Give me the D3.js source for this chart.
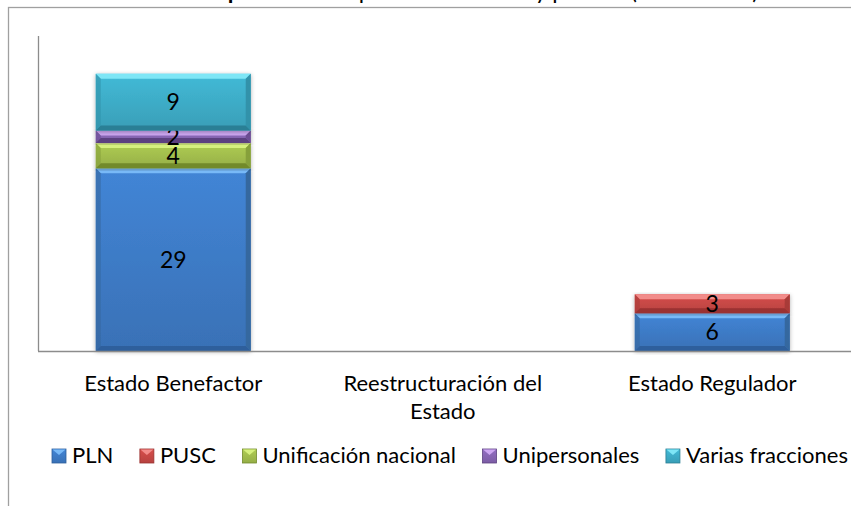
<!DOCTYPE html>
<html>
<head>
<meta charset="utf-8">
<script src="https://cdn.jsdelivr.net/npm/d3@7"></script>
<style>
  html, body { margin: 0; padding: 0; background: #fff; }
  svg { display: block; }
</style>
</head>
<body>
<div id="chart"></div>
<script>
// data
const categories = ["Estado Benefactor", "Reestructuración del Estado", "Estado Regulador"];
const categoryLines = [["Estado Benefactor"], ["Reestructuración del", "Estado"], ["Estado Regulador"]];
const seriesNames = ["PLN", "PUSC", "Unificación nacional", "Unipersonales", "Varias fracciones"];
const plnValues = [29, 0, 6];
const puscValues = [0, 0, 3];
const unificacionValues = [4, 0, 0];
const unipersonalesValues = [2, 0, 0];
const variasValues = [9, 0, 0];
const titleBold = "Reformas aprobadas";
const titleRest = " en período histórico y partido (1949-2014)";

// colours: face, light bevel, dark bevel
const palette = [
    { face: "#3f7ecb", top: "#78b9f7", bottom: "#2f5f9c", edge: "#35689f" },
    { face: "#cc4a47", top: "#f28c8a", bottom: "#9a3230", edge: "#a83a38" },
    { face: "#a6c24f", top: "#d6f07e", bottom: "#728a2c", edge: "#86a03a" },
    { face: "#8a68b8", top: "#cda7f2", bottom: "#5c4180", edge: "#6c4e94" },
    { face: "#3fb0cc", top: "#7ee6f6", bottom: "#2b7f95", edge: "#3192aa" }
];

const width = 851, height = 506;
const font = "Lato, 'Noto Sans', sans-serif";
const fontSize = 22;

const rows = categories.map(function (c, i) {
    return {
        cat: c,
        "PLN": plnValues[i],
        "PUSC": puscValues[i],
        "Unificación nacional": unificacionValues[i],
        "Unipersonales": unipersonalesValues[i],
        "Varias fracciones": variasValues[i]
    };
});

const svg = d3.select("#chart")
    .append("svg")
    .attr("width", width)
    .attr("height", height);

const defs = svg.append("defs");

// soft shadow round the bars
const shadow = defs.append("filter")
    .attr("id", "barShadow")
    .attr("x", "-10%").attr("y", "-10%")
    .attr("width", "120%").attr("height", "120%");
shadow.append("feDropShadow")
    .attr("dx", 0).attr("dy", 1)
    .attr("stdDeviation", 2)
    .attr("flood-color", "#000")
    .attr("flood-opacity", 0.3);

// vertical gradient for each series face
palette.forEach(function (p, i) {
    const g = defs.append("linearGradient")
        .attr("id", "face" + i)
        .attr("x1", 0).attr("y1", 0).attr("x2", 0).attr("y2", 1);
    g.append("stop").attr("offset", "0%").attr("stop-color", d3.color(p.face).brighter(0.15));
    g.append("stop").attr("offset", "100%").attr("stop-color", d3.color(p.face).darker(0.3));
});

// chart area border
svg.append("rect")
    .attr("x", 8.5)
    .attr("y", 7.5)
    .attr("width", 900)
    .attr("height", 600)
    .style("fill", "none")
    .style("stroke", "#a0a0a0")
    .style("stroke-width", "1.3px");

// title, cut off by the top edge of the picture
const title = svg.append("text")
    .attr("x", 436)
    .attr("y", -1)
    .style("text-anchor", "middle")
    .style("font-family", font)
    .style("font-size", "23px")
    .style("fill", "#000");
title.append("tspan").style("font-weight", "bold").text(titleBold);
title.append("tspan").text(titleRest);

// scales
const x = d3.scaleBand()
    .domain(categories)
    .range([38.5, 847])
    .paddingInner(0.425)
    .paddingOuter(0.2125);

const y = d3.scaleLinear()
    .domain([0, 50])
    .range([351, 36]);

const stacked = d3.stack().keys(seriesNames)(rows);

// bars
const bevel = 5;
const barGroups = svg.append("g")
    .selectAll("g")
    .data(stacked)
    .join("g");

barGroups.each(function (series, si) {
    const p = palette[si];
    const g = d3.select(this);
    series.forEach(function (d) {
        if (d[1] - d[0] <= 0) return;
        const x0 = x(d.data.cat), x1 = x0 + x.bandwidth();
        const y0 = y(d[1]), y1 = y(d[0]);
        const b = Math.min(bevel, (y1 - y0) / 2);
        const seg = g.append("g").attr("filter", "url(#barShadow)");
        seg.append("rect")
            .attr("x", x0).attr("y", y0)
            .attr("width", x1 - x0).attr("height", y1 - y0)
            .style("fill", "url(#face" + si + ")");
        // top bevel
        seg.append("polygon")
            .attr("points", [[x0, y0], [x1, y0], [x1 - b, y0 + b], [x0 + b, y0 + b]].join(" "))
            .style("fill", p.top);
        // bottom bevel
        seg.append("polygon")
            .attr("points", [[x0, y1], [x1, y1], [x1 - b, y1 - b], [x0 + b, y1 - b]].join(" "))
            .style("fill", p.bottom);
        // side bevels
        seg.append("polygon")
            .attr("points", [[x0, y0], [x0 + b, y0 + b], [x0 + b, y1 - b], [x0, y1]].join(" "))
            .style("fill", p.edge).style("opacity", 0.6);
        seg.append("polygon")
            .attr("points", [[x1, y0], [x1 - b, y0 + b], [x1 - b, y1 - b], [x1, y1]].join(" "))
            .style("fill", p.edge);
    });
});

// data labels
barGroups.each(function (series) {
    d3.select(this).selectAll("text.val")
        .data(series.filter(function (d) { return d[1] - d[0] > 0; }))
        .join("text")
        .attr("class", "val")
        .attr("x", function (d) { return x(d.data.cat) + x.bandwidth() / 2; })
        .attr("y", function (d) { return (y(d[0]) + y(d[1])) / 2; })
        .attr("dy", "0.36em")
        .style("text-anchor", "middle")
        .style("font-family", font)
        .style("font-size", (fontSize + 1) + "px")
        .style("fill", "#000")
        .text(function (d) { return d[1] - d[0]; });
});

// axes lines (no ticks in the original)
svg.append("line")
    .attr("x1", 38.5).attr("x2", 38.5)
    .attr("y1", y.range()[1]).attr("y2", y(0))
    .style("stroke", "#8c8c8c").style("stroke-width", "1.3px");
svg.append("line")
    .attr("x1", 38).attr("x2", 851)
    .attr("y1", y(0) + 0.5).attr("y2", y(0) + 0.5)
    .style("stroke", "#8c8c8c").style("stroke-width", "1.3px");

// category labels
const catLabels = svg.append("g")
    .selectAll("text")
    .data(categories)
    .join("text")
    .attr("x", function (d) { return x(d) + x.bandwidth() / 2; })
    .attr("y", 391)
    .style("text-anchor", "middle")
    .style("font-family", font)
    .style("font-size", fontSize + "px")
    .style("fill", "#000");
catLabels.each(function (d, i) {
    const t = d3.select(this);
    categoryLines[i].forEach(function (line, li) {
        t.append("tspan")
            .attr("x", x(d) + x.bandwidth() / 2)
            .attr("dy", li === 0 ? 0 : 28)
            .text(line);
    });
});

// legend: items spread between the two ends seen in the picture
const legendLeft = 52, legendRight = 848;
const legend = svg.append("g");
const items = seriesNames.map(function (name, i) {
    const p = palette[i];
    const item = legend.append("g");
    item.append("rect")
        .attr("width", 14).attr("height", 14)
        .style("fill", "url(#face" + i + ")")
        .style("stroke", p.bottom).style("stroke-width", "0.8px");
    item.append("polygon")
        .attr("points", "0.5,0.5 13.5,0.5 7,6")
        .style("fill", p.top);
    const txt = item.append("text")
        .attr("x", 20)
        .attr("y", 14)
        .style("font-family", font)
        .style("font-size", fontSize + "px")
        .style("fill", "#000")
        .text(name);
    return { g: item, w: 20 + txt.node().getComputedTextLength() };
});
const used = d3.sum(items, function (d) { return d.w; });
const gap = (legendRight - legendLeft - used) / (items.length - 1);
let lx = legendLeft;
items.forEach(function (it) {
    it.g.attr("transform", "translate(" + lx + ",449)");
    lx += it.w + gap;
});
</script>
</body>
</html>
